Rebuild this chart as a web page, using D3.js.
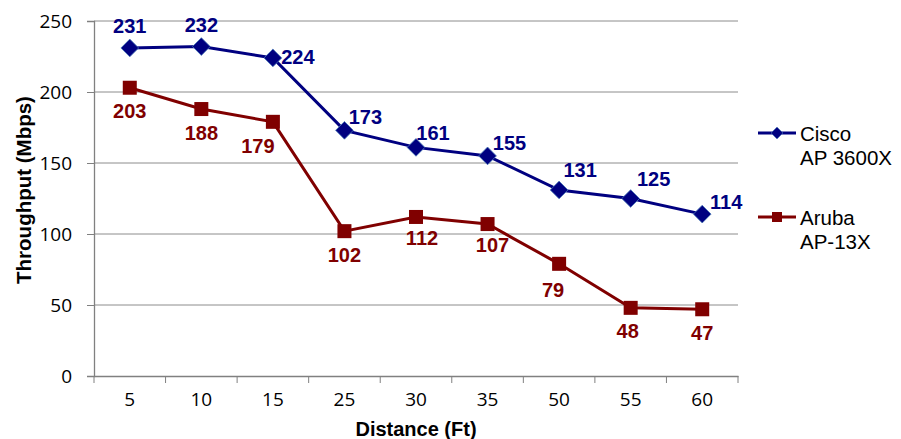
<!DOCTYPE html>
<html><head><meta charset="utf-8">
<script src="https://cdn.jsdelivr.net/npm/d3@7"></script>
<style>body{margin:0;background:#fff}svg{display:block}</style>
</head><body>
<script>
const categories = ["5","10","15","25","30","35","50","55","60"];
const cisco = [231,232,224,173,161,155,131,125,114];
const aruba = [203,188,179,102,112,107,79,48,47];
const yTicks = [0,50,100,150,200,250];
const seriesNames = [["Cisco","AP 3600X"],["Aruba","AP-13X"]];

const W=901,H=439;
const svg=d3.select("body").append("svg").attr("width",W).attr("height",H);
const L=94,R=738,T=21,B=376;
const x=d3.scaleBand().domain(categories).range([L,R]);
const y=d3.scaleLinear().domain([0,250]).range([B,T]);
const tickFont="'Open Sans', 'Noto Sans', sans-serif";
const boldFont="'Liberation Sans', Arial, sans-serif";

// gridlines
svg.append("g").selectAll("line").data(yTicks.filter(d=>d>0)).join("line")
 .attr("x1",L).attr("x2",R).attr("y1",d=>y(d)).attr("y2",d=>y(d))
 .attr("stroke","#8c8c8c").attr("stroke-width",1);

const ya=svg.append("g").attr("transform",`translate(${L},0)`)
 .call(d3.axisLeft(y).tickValues(yTicks).tickSize(7).tickPadding(15));
const xa=svg.append("g").attr("transform",`translate(0,${B})`)
 .call(d3.axisBottom(x).tickSize(0).tickPadding(17));
[ya,xa].forEach(a=>{a.select(".domain").attr("stroke","#808080").attr("stroke-width",1.3);
 a.selectAll(".tick line").attr("stroke","#808080");
 a.selectAll("text").attr("font-family",tickFont).attr("font-size",19).attr("fill","#000");});
// x ticks between categories
svg.append("g").selectAll("line").data(categories.concat(["end"])).join("line")
 .attr("x1",(d,i)=>L+i*x.step()).attr("x2",(d,i)=>L+i*x.step())
 .attr("y1",B).attr("y2",B+7).attr("stroke","#808080");

const cx=d=>x(d)+x.bandwidth()/2;
const line=d3.line().x((d,i)=>cx(categories[i])).y(d=>y(d));

const cC="#000080", aC="#800000";
svg.append("path").datum(aruba).attr("d",line).attr("fill","none").attr("stroke",aC).attr("stroke-width",3);
svg.append("path").datum(cisco).attr("d",line).attr("fill","none").attr("stroke",cC).attr("stroke-width",3);

svg.append("g").selectAll("rect").data(aruba).join("rect")
 .attr("x",(d,i)=>cx(categories[i])-7).attr("y",d=>y(d)-7).attr("width",14).attr("height",14)
 .attr("fill",aC);
const diamond=d3.symbol().type(d3.symbolDiamond2).size(200);
svg.append("g").selectAll("path").data(cisco).join("path")
 .attr("transform",(d,i)=>`translate(${cx(categories[i])},${y(d)})`)
 .attr("d",diamond).attr("fill",cC).attr("stroke","#4a7ab8").attr("stroke-width",0.8);

// labels
const cOff=[[0,-22],[0,-22],[25,-1],[21,-13],[17,-14],[22,-13],[21,-20],[23,-20],[24,-12]];
const aOff=[[0,23],[0,24],[-15,24],[0,24],[6,21],[5,21],[-6,26],[-3,23],[0,24]];
svg.append("g").selectAll("text").data(cisco).join("text")
 .attr("x",(d,i)=>cx(categories[i])+cOff[i][0]).attr("y",(d,i)=>y(d)+cOff[i][1])
 .attr("text-anchor","middle").attr("dominant-baseline","central")
 .attr("font-family",boldFont).attr("font-weight","bold").attr("font-size",20).attr("fill",cC).text(d=>d);
svg.append("g").selectAll("text").data(aruba).join("text")
 .attr("x",(d,i)=>cx(categories[i])+aOff[i][0]).attr("y",(d,i)=>y(d)+aOff[i][1])
 .attr("text-anchor","middle").attr("dominant-baseline","central")
 .attr("font-family",boldFont).attr("font-weight","bold").attr("font-size",20).attr("fill",aC).text(d=>d);

// axis titles
svg.append("text").attr("transform","translate(23,190) rotate(-90)").attr("text-anchor","middle")
 .attr("dominant-baseline","central").attr("font-family",boldFont).attr("font-weight","bold").attr("font-size",20.5).text("Throughput (Mbps)");
svg.append("text").attr("x",416).attr("y",429).attr("text-anchor","middle").attr("dominant-baseline","central")
 .attr("font-family",boldFont).attr("font-weight","bold").attr("font-size",20).text("Distance (Ft)");

// legend
const lg=svg.append("g");
const ly=[133,217], cols=[cC,aC];
seriesNames.forEach((n,i)=>{
 lg.append("line").attr("x1",758).attr("x2",796).attr("y1",ly[i]).attr("y2",ly[i]).attr("stroke",cols[i]).attr("stroke-width",3);
 if(i===0) lg.append("path").attr("transform",`translate(777,${ly[i]})`).attr("d",d3.symbol().type(d3.symbolDiamond2).size(90)).attr("fill",cC).attr("stroke","#4a7ab8").attr("stroke-width",0.6);
 else lg.append("rect").attr("x",772).attr("y",ly[i]-5).attr("width",10).attr("height",10).attr("fill",aC);
 n.forEach((t,j)=>lg.append("text").attr("x",800).attr("y",ly[i]+j*24).attr("dominant-baseline","central")
  .attr("font-family",boldFont).attr("font-size",20.5).attr("fill","#000").text(t));
});
</script>
</body></html>
